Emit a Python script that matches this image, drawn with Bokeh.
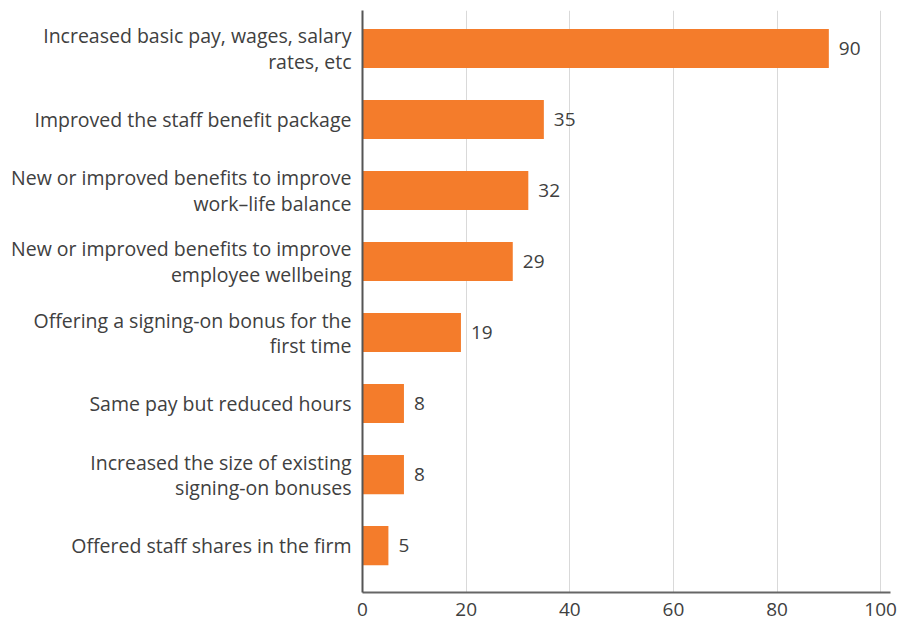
from bokeh.plotting import figure
from bokeh.models import Range1d, FixedTicker, ColumnDataSource
from bokeh.core.properties import value
from bokeh.embed import file_html
from bokeh.resources import INLINE

categories = [
    "Increased basic pay, wages, salary\nrates, etc",
    "Improved the staff benefit package",
    "New or improved benefits to improve\nwork\u2013life balance",
    "New or improved benefits to improve\nemployee wellbeing",
    "Offering a signing-on bonus for the\nfirst time",
    "Same pay but reduced hours",
    "Increased the size of existing\nsigning-on bonuses",
    "Offered staff shares in the firm",
]
values = [90, 35, 32, 29, 19, 8, 8, 5]
x_ticks = [0, 20, 40, 60, 80, 100]

FONT = "Open Sans"
TXT = "#404040"
pos = list(range(len(categories)))

src = ColumnDataSource(dict(y=pos, v=values, lbl=[str(v) for v in values]))

p = figure(width=897, height=623, output_backend="svg", toolbar_location=None,
           x_range=Range1d(0, 101.9), y_range=Range1d(7.66, -0.535),
           min_border_left=362, min_border_right=7, min_border_top=10,
           min_border_bottom=31)
p.outline_line_color = None
p.background_fill_color = "white"

p.hbar(y="y", right="v", left=0, height=0.55, source=src,
       fill_color="#f47c2b", line_color=None)
p.text(x="v", y="y", text="lbl", source=src, x_offset=10,
       text_align="left", text_baseline="middle",
       text_font=value(FONT), text_font_size="19px", text_color=TXT)

p.xaxis.ticker = FixedTicker(ticks=x_ticks)
p.xaxis.axis_line_color = "#666666"
p.xaxis.axis_line_width = 2
p.xaxis.major_tick_line_color = None
p.xaxis.minor_tick_line_color = None
p.xaxis.major_label_text_font = FONT
p.xaxis.major_label_text_font_size = "19px"
p.xaxis.major_label_text_color = TXT
p.xaxis.major_label_standoff = 4

p.yaxis.ticker = FixedTicker(ticks=pos)
p.yaxis.major_label_overrides = {i: c for i, c in enumerate(categories)}
p.yaxis.axis_line_color = "#555555"
p.yaxis.axis_line_width = 2
p.yaxis.major_tick_line_color = None
p.yaxis.minor_tick_line_color = None
p.yaxis.major_label_text_font = FONT
p.yaxis.major_label_text_font_size = "19.5px"
p.yaxis.major_label_text_color = TXT
p.yaxis.major_label_text_line_height = 0.93
p.yaxis.major_label_standoff = 5

p.xgrid.grid_line_color = "#d9d9d9"
p.xgrid.grid_line_width = 1
p.ygrid.grid_line_color = None

open("out.html", "w").write(file_html(p, INLINE))
